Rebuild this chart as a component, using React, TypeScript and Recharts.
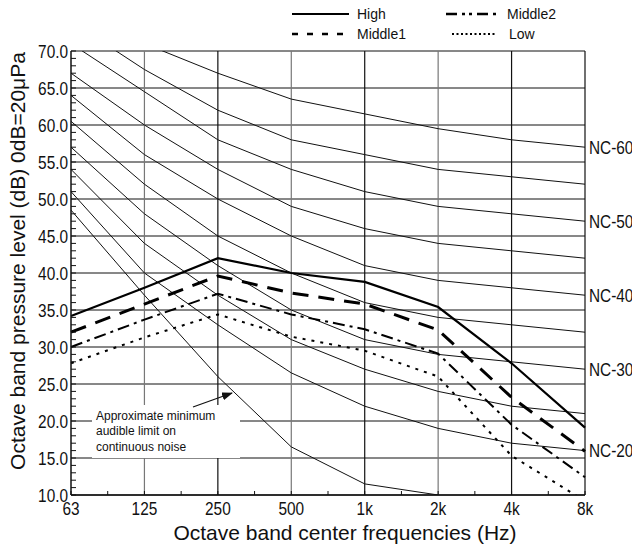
import React from 'react';
import { LineChart, Line, XAxis, YAxis, ReferenceLine } from 'recharts';

const freqLabels = ['63', '125', '250', '500', '1k', '2k', '4k', '8k'];
const yMajor = [10, 15, 20, 25, 30, 35, 40, 45, 50, 55, 60, 65, 70];
const yTicks = Array.from({ length: 61 }, (_, k) => 10 + k);
const xTicks = Array.from({ length: 15 }, (_, k) => k / 2);

// NC curves
const ncLevels = [20, 25, 30, 35, 40, 45, 50, 55, 60];
const nc20 = [51, 40, 33, 26.5, 22, 19, 17, 16];
const nc25 = [54, 44, 37, 31, 27, 24, 22, 21];
const nc30 = [57, 48, 41, 35, 31, 29, 28, 27];
const nc35 = [60.5, 52, 45, 40, 36, 34, 33, 32];
const nc40 = [64, 56, 50, 45, 41, 39, 38, 37];
const nc45 = [67, 60, 54, 49, 46, 44, 43, 42];
const nc50 = [71, 64.5, 58, 54, 51, 49, 48, 47];
const nc55 = [74, 67.5, 62, 58, 56, 54, 53, 52];
const nc60 = [77, 71, 67, 63.5, 61.5, 59.5, 58, 57];
const ncCurves = [nc20, nc25, nc30, nc35, nc40, nc45, nc50, nc55, nc60];
const labeledNC = [20, 30, 40, 50, 60];

// approximate minimum audible limit
const threshold = [48.5, 37, 26, 16.5, 11.5, 10, null, null];

const high = [34.2, 38, 42, 40, 38.8, 35.4, 27.8, 19.1];
const middle1 = [32, 35.8, 39.6, 37.3, 35.8, 32.3, 23.2, 15.9];
const middle2 = [30, 33.7, 37.2, 34.4, 32.4, 29.1, 19.5, 12.4];
const low = [27.8, 31.3, 34.4, 31.4, 29.5, 26, 15.3, 9.2];

const data = freqLabels.map((f, i) => {
  const row: Record<string, any> = {
    x: i,
    freq: f,
    threshold: threshold[i],
    high: high[i],
    middle1: middle1[i],
    middle2: middle2[i],
    low: low[i],
  };
  ncLevels.forEach((lv, k) => {
    row['nc' + lv] = ncCurves[k][i];
  });
  return row;
});

const SANS = "'Liberation Sans', Arial, sans-serif";
const SQUEEZE = 0.81;

const YTick = (props: any) => {
  const { x, y, payload } = props;
  if (payload.value % 5 !== 0) return <g />;
  return (
    <text
      transform={`translate(${x},${y}) scale(${SQUEEZE},1)`}
      textAnchor="end"
      dy={6.5}
      fontSize={19}
      fontFamily={SANS}
      fill="#111"
    >
      {payload.value.toFixed(1)}
    </text>
  );
};

const XTick = (props: any) => {
  const { x, y, payload } = props;
  if (!Number.isInteger(payload.value)) return <g />;
  return (
    <text
      transform={`translate(${x},${y}) scale(${SQUEEZE},1)`}
      textAnchor="middle"
      dy={14}
      fontSize={19}
      fontFamily={SANS}
      fill="#111"
    >
      {freqLabels[payload.value]}
    </text>
  );
};

const ncLabel = (lv: number) => (props: any) => {
  const { x, y, index } = props;
  if (index !== freqLabels.length - 1) return <g />;
  return (
    <text
      transform={`translate(${x + 4},${y}) scale(${SQUEEZE},1)`}
      dy={6.5}
      fontSize={19}
      fontFamily={SANS}
      fill="#111"
    >
      {`NC-${lv}`}
    </text>
  );
};

export default function App() {
  return (
    <div style={{ position: 'relative', width: 632, height: 546, background: '#fff' }}>
      <style>{'body{margin:0}'}</style>
      <LineChart
        width={632}
        height={546}
        data={data}
        margin={{ top: 51, right: 47, bottom: 0, left: 0 }}
      >
        {yMajor.map((v) => (
          <ReferenceLine key={'h' + v} y={v} stroke="#111" strokeWidth={1} />
        ))}
        {[1, 2, 3, 4, 5, 6, 7].map((i) => (
          <ReferenceLine key={'v' + i} x={i} stroke={i % 2 === 1 && i < 7 ? '#777' : '#111'} strokeWidth={1.2} />
        ))}
        <XAxis
          dataKey="x"
          type="number"
          domain={[0, 7]}
          ticks={xTicks}
          interval={0}
          height={51}
          tickSize={-4}
          tickMargin={10}
          tickLine={{ stroke: '#111' }}
          axisLine={{ stroke: '#111', strokeWidth: 1.5 }}
          tick={<XTick />}
        />
        <YAxis
          type="number"
          domain={[10, 70]}
          ticks={yTicks}
          interval={0}
          allowDataOverflow
          width={71}
          tickSize={-5}
          tickMargin={8}
          tickLine={{ stroke: '#111' }}
          axisLine={{ stroke: '#111', strokeWidth: 1.5 }}
          tick={<YTick />}
        />
        {ncLevels.map((lv) => (
          <Line
            key={lv}
            dataKey={'nc' + lv}
            stroke="#111"
            strokeWidth={1}
            dot={false}
            activeDot={false}
            isAnimationActive={false}
            label={labeledNC.includes(lv) ? ncLabel(lv) : false}
          />
        ))}
        <Line dataKey="threshold" stroke="#111" strokeWidth={1} dot={false} activeDot={false} isAnimationActive={false} />
        <Line dataKey="high" stroke="#000" strokeWidth={2.2} dot={false} activeDot={false} isAnimationActive={false} />
        <Line dataKey="middle1" stroke="#000" strokeWidth={3} strokeDasharray="16 10" dot={false} activeDot={false} isAnimationActive={false} />
        <Line dataKey="middle2" stroke="#000" strokeWidth={2} strokeDasharray="12 5 3 5" dot={false} activeDot={false} isAnimationActive={false} />
        <Line dataKey="low" stroke="#000" strokeWidth={2} strokeDasharray="3 6" dot={false} activeDot={false} isAnimationActive={false} />
      </LineChart>
      <svg
        width={632}
        height={546}
        style={{ position: 'absolute', left: 0, top: 0, pointerEvents: 'none' }}
      >
        <defs>
          <marker id="arrowHead" markerWidth="11" markerHeight="8" refX="10" refY="4" orient="auto" markerUnits="userSpaceOnUse">
            <path d="M0,0 L11,4 L0,8 Z" fill="#111" />
          </marker>
        </defs>
        {/* legend */}
        <g fontFamily={SANS} fontSize={14} fill="#111">
          <line x1={292} x2={349} y1={14} y2={14} stroke="#000" strokeWidth={2.2} />
          <text x={357} y={19}>High</text>
          <line x1={292} x2={349} y1={34} y2={34} stroke="#000" strokeWidth={2.5} strokeDasharray="6 9" />
          <text x={357} y={39}>Middle1</text>
          <line x1={446} x2={497} y1={14} y2={14} stroke="#000" strokeWidth={2.5} strokeDasharray="11 5 3 4 3 5" />
          <text x={507} y={19}>Middle2</text>
          <line x1={452} x2={497} y1={34} y2={34} stroke="#000" strokeWidth={2} strokeDasharray="2 2.5" />
          <text x={509} y={39}>Low</text>
        </g>
        {/* annotation */}
        <rect x={92} y={405} width={148} height={53} fill="#fff" />
        <g fontFamily={SANS} fontSize={12} fill="#111">
          <text x={96} y={420}>Approximate minimum</text>
          <text x={96} y={435}>audible limit on</text>
          <text x={96} y={451}>continuous noise</text>
        </g>
        <line x1={193} y1={407} x2={232} y2={393} stroke="#111" strokeWidth={1.2} markerEnd="url(#arrowHead)" />
        {/* axis titles */}
        <text x={345} y={540} textAnchor="middle" fontFamily={SANS} fontSize={21} fill="#111">
          Octave band center frequencies (Hz)
        </text>
        <text
          x={25}
          y={261}
          textAnchor="middle"
          transform="rotate(-90 25 261)"
          fontFamily={SANS}
          fontSize={21}
          fill="#111"
        >
          Octave band pressure level (dB) 0dB=20μPa
        </text>
      </svg>
    </div>
  );
}
